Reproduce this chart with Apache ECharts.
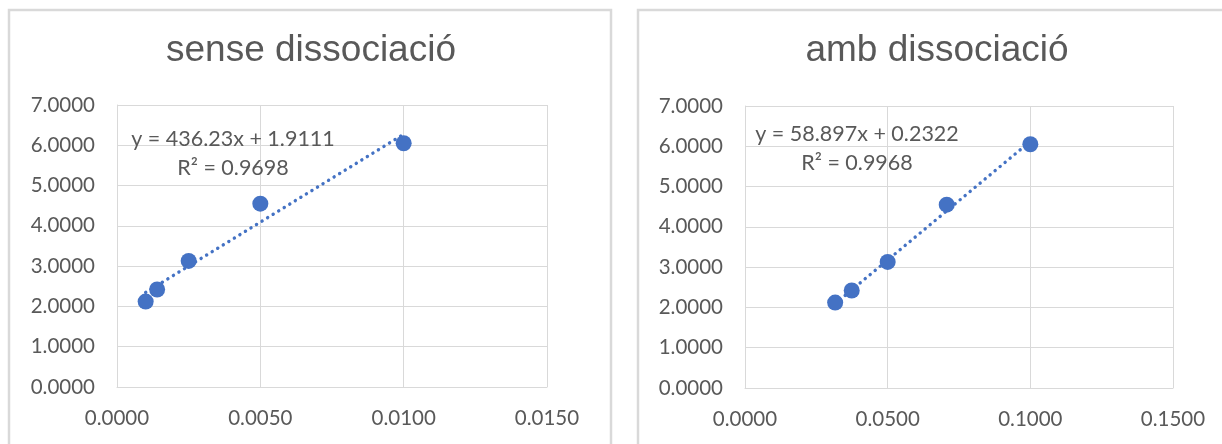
<!DOCTYPE html>
<html>
<head>
<meta charset="utf-8">
<script src="https://cdn.jsdelivr.net/npm/echarts@6/dist/echarts.min.js"></script>
<style>
  html, body { margin: 0; padding: 0; background: #ffffff; }
  #chart { width: 1222px; height: 444px; }
</style>
</head>
<body>
<div id="chart"></div>
<script>
// Concentration series (left) and its square root (right), same measured response
const titles = ['sense dissociació', 'amb dissociació'];
const xSense = [0.0010, 0.0014, 0.0025, 0.0050, 0.0100];
const xAmb = [0.0316, 0.0374, 0.0500, 0.0707, 0.1000];
const yValues = [2.12, 2.42, 3.13, 4.55, 6.05];

// Linear trendline coefficients
const fitSense = { slope: 436.23, intercept: 1.9111, r2: 0.9698 };
const fitAmb = { slope: 58.897, intercept: 0.2322, r2: 0.9968 };

// Axis settings
const xTicksSense = { min: 0, max: 0.015, interval: 0.005 };
const xTicksAmb = { min: 0, max: 0.15, interval: 0.05 };
const yTicks = { min: 0, max: 7, interval: 1 };

const BLUE = '#4472C4';
const GRID = '#d9d9d9';
const TEXT = '#595959';
const LABEL_FONT = 'Lato, "Open Sans", sans-serif';
const TITLE_FONT = '"Liberation Sans", Arial, sans-serif';

function pairs(xs, ys) { return xs.map((x, i) => [x, ys[i]]); }
function trend(xs, fit) {
  const lo = Math.min(...xs), hi = Math.max(...xs);
  return [[lo, fit.slope * lo + fit.intercept], [hi, fit.slope * hi + fit.intercept]];
}
function fmt(v) { return v.toFixed(4); }

function xAxis(idx, t) {
  return {
    type: 'value', gridIndex: idx, min: t.min, max: t.max, interval: t.interval,
    axisLine: { show: true, onZero: false, lineStyle: { color: GRID, width: 1 } },
    axisTick: { show: false },
    splitLine: { show: true, lineStyle: { color: GRID, width: 1 } },
    axisLabel: { color: TEXT, fontSize: 20.5, fontFamily: LABEL_FONT, margin: 21, formatter: fmt }
  };
}
function yAxis(idx) {
  return {
    type: 'value', gridIndex: idx, min: yTicks.min, max: yTicks.max, interval: yTicks.interval,
    axisLine: { show: true, lineStyle: { color: GRID, width: 1 } },
    axisTick: { show: false },
    splitLine: { show: true, lineStyle: { color: GRID, width: 1 } },
    axisLabel: { color: TEXT, fontSize: 20.5, fontFamily: LABEL_FONT, margin: 22, formatter: fmt }
  };
}
function scatter(idx, xs) {
  return {
    type: 'scatter', xAxisIndex: idx, yAxisIndex: idx,
    data: pairs(xs, yValues), symbol: 'circle', symbolSize: 16,
    itemStyle: { color: BLUE, opacity: 1 }, z: 3
  };
}
function trendLine(idx, xs, fit) {
  return {
    type: 'line', xAxisIndex: idx, yAxisIndex: idx,
    data: trend(xs, fit), symbol: 'none', silent: true, z: 2,
    lineStyle: { color: BLUE, width: 3.4, type: [0.1, 6.4], cap: 'round' }
  };
}
function eqText(fit) {
  return 'y = ' + fit.slope + 'x + ' + Math.abs(fit.intercept).toFixed(4) +
         '\n' + 'R² = ' + fit.r2.toFixed(4);
}
function frame(x) {
  return {
    type: 'rect', shape: { x: x, y: 10, width: 602, height: 450 },
    style: { fill: 'none', stroke: GRID, lineWidth: 2.5 }, silent: true
  };
}
function eqLabel(x, y, fit) {
  return {
    type: 'text', x: x, y: y,
    style: {
      text: eqText(fit), fill: TEXT, font: '21.5px ' + LABEL_FONT,
      align: 'center', verticalAlign: 'middle', lineHeight: 29
    }, z: 10
  };
}
function title(text, x) {
  return {
    text: text, left: x, top: 27, textAlign: 'center',
    textStyle: { color: TEXT, fontSize: 37, fontWeight: 'normal', fontFamily: TITLE_FONT }
  };
}

const chart = echarts.init(document.getElementById('chart'), null, { renderer: 'canvas' });
chart.setOption({
  animation: false,
  backgroundColor: '#ffffff',
  title: [title(titles[0], 306), title(titles[1], 932)],
  grid: [
    { left: 117, top: 105, width: 430, height: 282 },
    { left: 745, top: 106, width: 428, height: 282 }
  ],
  xAxis: [xAxis(0, xTicksSense), xAxis(1, xTicksAmb)],
  yAxis: [yAxis(0), yAxis(1)],
  series: [
    trendLine(0, xSense, fitSense), scatter(0, xSense),
    trendLine(1, xAmb, fitAmb), scatter(1, xAmb)
  ],
  graphic: [
    frame(9), frame(638),
    eqLabel(233, 154, fitSense),
    eqLabel(857, 149, fitAmb)
  ]
});
</script>
</body>
</html>
